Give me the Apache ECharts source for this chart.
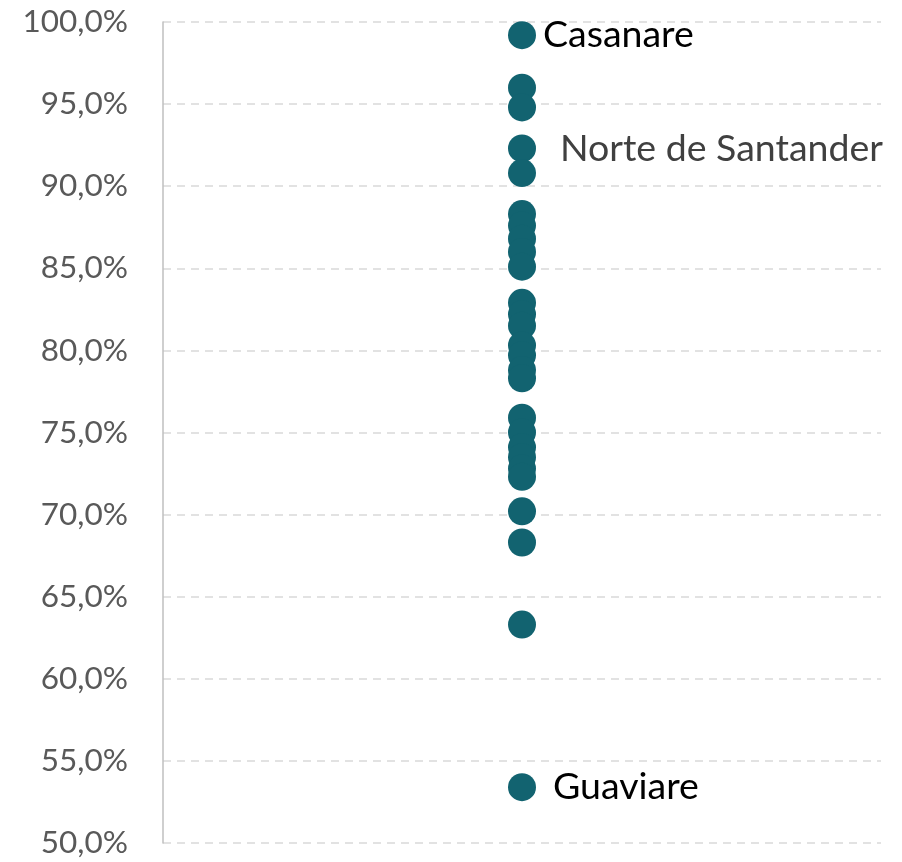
<!DOCTYPE html>
<html>
<head>
<meta charset="utf-8">
<script src="https://cdn.jsdelivr.net/npm/echarts@6/dist/echarts.min.js"></script>
<style>
  html, body { margin: 0; padding: 0; background: #fff; }
  #chart { width: 902px; height: 862px; }
</style>
</head>
<body>
<div id="chart"></div>
<script>
  // valores por departamento (%)
  const values = [99.2, 96.0, 94.8, 92.3, 90.8, 88.3, 87.6, 86.8, 86.0, 85.1,
    82.9, 82.2, 81.5, 80.3, 79.7, 78.8, 78.3, 75.9, 75.0, 74.1, 73.5, 72.8, 72.3,
    70.2, 68.3, 63.3, 53.4];
  // etiquetas visibles (solo tres puntos)
  const labelNames = {0: 'Casanare', 3: 'Norte de Santander', 26: 'Guaviare'};
  const labelColors = {0: '#000000', 3: '#404040', 26: '#000000'};
  const labelGaps = {0: 7, 3: 24, 26: 17};
  const categories = ['Departamentos'];
  const yTicks = {min: 50, max: 100, interval: 5};

  const fontFamily = 'Lato, "Open Sans", sans-serif';

  const points = values.map((v, i) => {
    const item = {value: [categories[0], v]};
    if (labelNames[i]) {
      item.name = labelNames[i];
      item.label = {
        show: true, position: 'right', distance: labelGaps[i],
        formatter: labelNames[i], color: labelColors[i],
        fontSize: 37.5, fontFamily: fontFamily
      };
    }
    return item;
  });

  const chart = echarts.init(document.getElementById('chart'));
  chart.setOption({
    animation: false,
    grid: {left: 163, right: 21, top: 22, bottom: 19, containLabel: false},
    xAxis: {
      type: 'category', data: categories, boundaryGap: true,
      axisLine: {show: false}, axisTick: {show: false}, axisLabel: {show: false},
      splitLine: {show: false}
    },
    yAxis: {
      type: 'value', min: yTicks.min, max: yTicks.max, interval: yTicks.interval,
      axisLine: {show: true, lineStyle: {color: '#bfbfbf', width: 1.5}},
      axisTick: {show: false},
      axisLabel: {
        margin: 35, color: '#595959', fontSize: 31.5, fontFamily: fontFamily,
        formatter: v => v.toFixed(1).replace('.', ',') + '%'
      },
      splitLine: {show: true, lineStyle: {color: '#d9d9d9', type: [8, 6], width: 1.5}}
    },
    series: [{
      type: 'scatter', symbol: 'circle', symbolSize: 28,
      itemStyle: {color: '#126370', opacity: 1},
      data: points
    }]
  });
</script>
</body>
</html>
